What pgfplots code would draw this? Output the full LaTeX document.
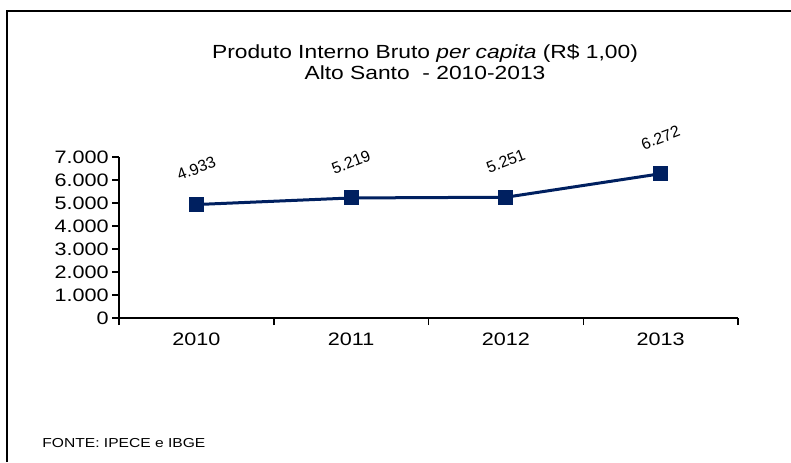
\documentclass[border=0pt]{standalone}
\usepackage{fontspec}
\setmainfont{Liberation Sans}[FakeStretch=1.2]
\newfontfamily\plainsans{Liberation Sans}
\usepackage{pgfplots}
\pgfplotsset{compat=1.18}
\definecolor{navy}{RGB}{0,32,96}
\begin{document}
\begin{tikzpicture}
\path[use as bounding box] (0,0) rectangle (395.5pt,231pt);
\draw[line width=0.75pt] (3.5pt,0) -- (3.5pt,225.5pt) -- (395.5pt,225.5pt);
\node[align=center, font=\fontsize{9.5}{10.5}\selectfont] at (212.5pt,200pt) {Produto Interno Bruto \textit{per capita} (R\$ 1,00)\\Alto Santo\ \ - 2010-2013};
\node[anchor=west, inner sep=0pt, font=\fontsize{6.5}{7}\selectfont] at (21pt,9.5pt) {FONTE: IPECE e IBGE};
\begin{axis}[
  at={(59.5pt,72pt)}, anchor=south west,
  scale only axis, width=309.5pt, height=80.5pt,
  xmin=-0.5, xmax=3.5, ymin=0, ymax=7000,
  axis x line*=bottom, axis y line*=left,
  axis line style={line width=1pt, -},
  xtick={-0.5,0.5,1.5,2.5,3.5}, xticklabels={},
  extra x ticks={0,1,2,3}, extra x tick labels={2010,2011,2012,2013},
  extra x tick style={major tick length=0pt, xticklabel style={yshift=-3.5pt}},
  ytick={0,1000,...,7000},
  tick align=outside, major tick length=3.5pt,
  tick style={line width=0.75pt, black},
  ticklabel style={font=\fontsize{9}{10}\selectfont},
  yticklabel style={inner sep=1.5pt},
  xticklabel style={inner sep=4pt},
  /pgf/number format/.cd, 1000 sep={.}, assume math mode=true,
]
\addplot[navy, line width=1.5pt, mark=square*, mark size=3.5pt,
  mark options={line width=0.5pt},
  nodes near coords, point meta=y,
  every node near coord/.append style={font=\plainsans\fontsize{8}{9}\selectfont, text=black, anchor=center, yshift=18pt, rotate=21}]
  coordinates {(0,4933) (1,5219) (2,5251) (3,6272)};
\end{axis}
\end{tikzpicture}
\end{document}
